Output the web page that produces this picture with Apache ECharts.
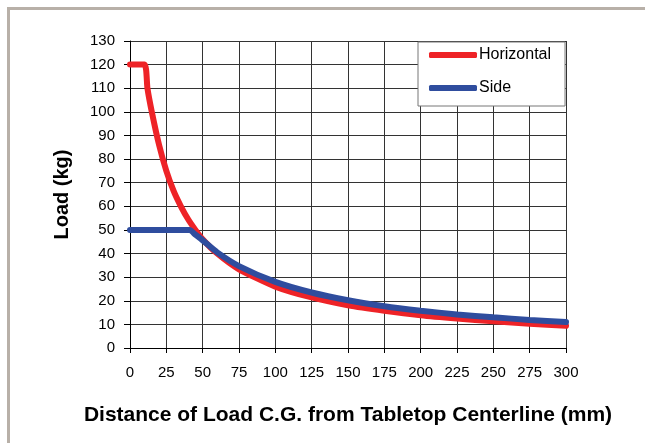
<!DOCTYPE html>
<html>
<head>
<meta charset="utf-8">
<script src="https://cdn.jsdelivr.net/npm/echarts@6/dist/echarts.min.js"></script>
<style>
  html, body { margin: 0; padding: 0; background: #fff; }
  #chart { width: 645px; height: 443px; }
</style>
</head>
<body>
<div id="chart"></div>
<script>
// distance (mm) and load (kg)
const horizontalDist = [0, 10, 12, 15, 20, 25, 30, 35, 40, 45, 50, 60, 75, 100, 125, 150, 175, 200, 225, 250, 275, 300];
const horizontalLoad = [120, 120, 110, 100, 86, 75, 66.5, 60, 54.5, 50, 46, 40, 33.3, 26, 21.4, 18.1, 15.8, 13.9, 12.5, 11.3, 10.3, 9.4];
const sideDist = [0, 41, 45, 50, 60, 75, 100, 125, 150, 175, 200, 225, 250, 275, 300];
const sideLoad = [50, 50, 48, 45.6, 40.5, 34.7, 28, 23.5, 20.2, 17.7, 15.8, 14.2, 13, 11.9, 11];

const toPairs = (xs, ys) => xs.map((x, i) => [x, ys[i]]);

const font = "'Liberation Sans', Arial, sans-serif";
const chart = echarts.init(document.getElementById("chart"));

const option = {
  backgroundColor: "#fff",
  animation: false,
  textStyle: { fontFamily: font },
  graphic: [
    {
      type: "rect",
      shape: { x: 8.5, y: 8.5, width: 700, height: 500 },
      style: { fill: "none", stroke: "#b8b0a8", lineWidth: 3 },
      silent: true,
    },
  ],
  grid: { left: 130, right: 79, top: 41, bottom: 95 },
  legend: {
    left: 418,
    top: 42,
    orient: "vertical",
    backgroundColor: "#fff",
    borderColor: "#777",
    borderWidth: 1,
    padding: [5, 14, 10, 11],
    itemGap: 17,
    itemWidth: 48,
    itemHeight: 6,
    icon: "roundRect",
    textStyle: { fontFamily: font, fontSize: 16, color: "#000", padding: [0, 0, 0, -3] },
    data: ["Horizontal", "Side"],
  },
  xAxis: {
    type: "value",
    min: 0,
    max: 300,
    interval: 25,
    name: "Distance of Load C.G. from Tabletop Centerline (mm)",
    nameLocation: "middle",
    nameGap: 57,
    nameTextStyle: { fontFamily: font, fontSize: 21, fontWeight: "bold", color: "#000" },
    axisLine: { lineStyle: { color: "#000", width: 1 } },
    axisTick: { show: true, length: 5, lineStyle: { color: "#000" } },
    axisLabel: { fontFamily: font, fontSize: 15, color: "#000", margin: 17 },
    splitLine: { show: true, lineStyle: { color: "#333", width: 1 } },
  },
  yAxis: {
    type: "value",
    min: 0,
    max: 130,
    interval: 10,
    name: "Load (kg)",
    nameLocation: "middle",
    nameGap: 58,
    nameTextStyle: { fontFamily: font, fontSize: 20, fontWeight: "bold", color: "#000" },
    axisLine: { show: true, lineStyle: { color: "#000", width: 1 } },
    axisTick: { show: true, length: 6, lineStyle: { color: "#000" } },
    axisLabel: { fontFamily: font, fontSize: 15, color: "#000", margin: 15 },
    splitLine: { show: true, lineStyle: { color: "#333", width: 1 } },
  },
  series: [
    {
      name: "Horizontal",
      type: "line",
      data: toPairs(horizontalDist, horizontalLoad),
      showSymbol: false,
      smooth: 0.2,
      color: "#ee2327",
      lineStyle: { width: 6, color: "#ee2327", cap: "round" },
      z: 2,
    },
    {
      name: "Side",
      type: "line",
      data: toPairs(sideDist, sideLoad),
      showSymbol: false,
      smooth: 0.2,
      color: "#2f4d9e",
      lineStyle: { width: 6, color: "#2f4d9e", cap: "round" },
      z: 3,
    },
  ],
};

chart.setOption(option);
</script>
</body>
</html>
